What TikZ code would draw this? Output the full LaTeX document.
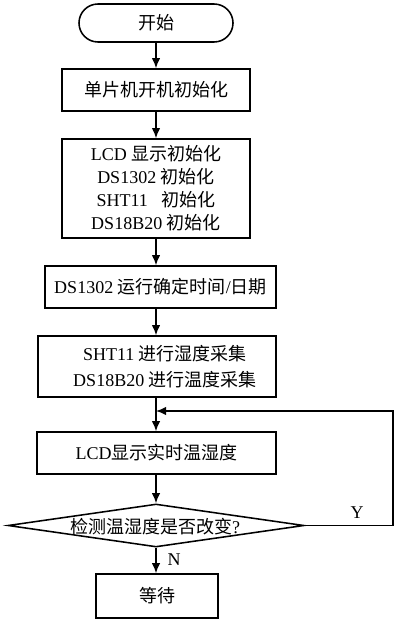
\documentclass[tikz,border=0pt]{standalone}
\usepackage{fontspec}
\setmainfont{Liberation Serif}
\newfontfamily\cjk{Noto Sans CJK SC}
\newcommand\zh[1]{{\cjk #1}}
\usetikzlibrary{arrows.meta,shapes.geometric}
\begin{document}
\begin{tikzpicture}[x=0.025cm,y=-0.025cm,
  line width=1.1pt,
  every node/.style={font=\fontsize{12.8}{16.3}\selectfont},
  box/.style={draw,rectangle,inner sep=0pt,align=center},
  arr/.style={-{Latex[length=2.5mm,width=2.1mm]}},
  lbl/.style={inner sep=0pt}]
\useasboundingbox (0,0) rectangle (400,622);
\node[box,rounded corners=0.475cm,minimum width=3.85cm,minimum height=0.95cm] (start) at (156,23) {\zh{开始}};
\node[box,minimum width=4.7cm,minimum height=1.05cm] (b2) at (156,90) {\zh{单片机开机初始化}};
\node[box,minimum width=4.7cm,minimum height=2.475cm] (b3) at (156,188.5) {LCD \zh{显示初始化}\\ DS1302 \zh{初始化}\\ SHT11\ \ \ \zh{初始化}\\ DS18B20 \zh{初始化}};
\node[box,minimum width=5.775cm,minimum height=1.05cm] (b4) at (160.5,287) {DS1302 \zh{运行确定时间}/\zh{日期}};
\node[box,minimum width=5.95cm,minimum height=1.525cm,font=\fontsize{12.8}{18.4}\selectfont] (b5) at (157,366.5) {\hspace*{0.4cm}SHT11 \zh{进行湿度采集}\\ \hspace*{0.4cm}DS18B20 \zh{进行温度采集}};
\node[box,minimum width=5.975cm,minimum height=1.05cm] (b6) at (156.5,453) {LCD\zh{显示实时温湿度}};
\node[draw,diamond,inner sep=0pt,minimum width=7.4cm,minimum height=1.075cm] (dec) at (156,525.5) {};
\node[lbl] (dect) at (155,527) {\zh{检测温湿度是否改变}?};
\node[box,minimum width=3.05cm,minimum height=1.1cm] (b7) at (157,596) {\zh{等待}};
\coordinate (c1) at (393,525.5);
\coordinate (c2) at (393,411);
\coordinate (c3) at (156,411);
\node[lbl] (ylab) at (357,513) {Y};
\node[lbl] (nlab) at (174,560) {N};
\draw[arr] (start.south) -- (start.south |- b2.north);
\draw[arr] (b2.south) -- (b2.south |- b3.north);
\draw[arr] (b3.south) -- (b3.south |- b4.north);
\draw[arr] (b3.south |- b4.south) -- (b3.south |- b5.north);
\draw[arr] (b3.south |- b5.south) -- (b3.south |- b6.north);
\draw[arr] (b6.south -| dec.north) -- (dec.north);
\draw[arr] (dec.south) -- (dec.south |- b7.north);
\draw[arr] (dec.east) -- (c1) -- (c2) -- (c3);
\end{tikzpicture}
\end{document}
